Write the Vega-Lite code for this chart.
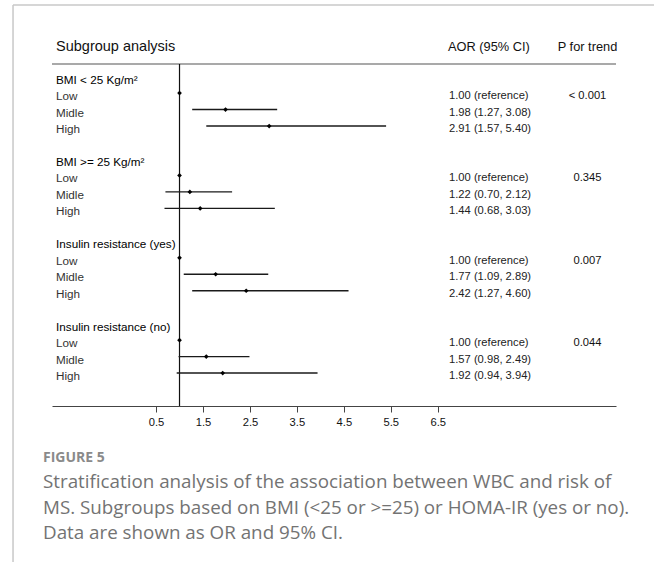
{
  "$schema": "https://vega.github.io/schema/vega-lite/v6.json",
  "width": 564,
  "height": 387,
  "autosize": {"type": "none"},
  "padding": {"left": 52, "top": 19, "right": 38, "bottom": 156},
  "background": "white",
  "config": {"view": {"stroke": null}, "font": "Liberation Sans"},
  "title": {
    "text": "FIGURE 5",
    "subtitle": [
      "Stratification analysis of the association between WBC and risk of",
      "MS. Subgroups based on BMI (<25 or >=25) or HOMA-IR (yes or no).",
      "Data are shown as OR and 95% CI."
    ],
    "orient": "bottom",
    "anchor": "start",
    "frame": "group",
    "dx": -9,
    "offset": -112,
    "font": "Open Sans",
    "fontSize": 14,
    "fontWeight": "bold",
    "color": "#8a8a8a",
    "subtitleFont": "Open Sans",
    "subtitleFontSize": 18.8,
    "subtitleColor": "#737373",
    "subtitleLineHeight": 25.5,
    "subtitlePadding": 8.5
  },
  "datasets": {
    "rows": [
      {"row": 0, "label": "BMI < 25 Kg/m²", "type": "head"},
      {"row": 1, "label": "Low", "type": "sub", "or": 1.0, "est": "1.00 (reference)", "p": "< 0.001"},
      {"row": 2, "label": "Midle", "type": "sub", "or": 1.98, "lo": 1.27, "hi": 3.08, "est": "1.98 (1.27, 3.08)"},
      {"row": 3, "label": "High", "type": "sub", "or": 2.91, "lo": 1.57, "hi": 5.40, "est": "2.91 (1.57, 5.40)"},
      {"row": 5, "label": "BMI >= 25 Kg/m²", "type": "head"},
      {"row": 6, "label": "Low", "type": "sub", "or": 1.0, "est": "1.00 (reference)", "p": "0.345"},
      {"row": 7, "label": "Midle", "type": "sub", "or": 1.22, "lo": 0.70, "hi": 2.12, "est": "1.22 (0.70, 2.12)"},
      {"row": 8, "label": "High", "type": "sub", "or": 1.44, "lo": 0.68, "hi": 3.03, "est": "1.44 (0.68, 3.03)"},
      {"row": 10, "label": "Insulin resistance (yes)", "type": "head"},
      {"row": 11, "label": "Low", "type": "sub", "or": 1.0, "est": "1.00 (reference)", "p": "0.007"},
      {"row": 12, "label": "Midle", "type": "sub", "or": 1.77, "lo": 1.09, "hi": 2.89, "est": "1.77 (1.09, 2.89)"},
      {"row": 13, "label": "High", "type": "sub", "or": 2.42, "lo": 1.27, "hi": 4.60, "est": "2.42 (1.27, 4.60)"},
      {"row": 15, "label": "Insulin resistance (no)", "type": "head"},
      {"row": 16, "label": "Low", "type": "sub", "or": 1.0, "est": "1.00 (reference)", "p": "0.044"},
      {"row": 17, "label": "Midle", "type": "sub", "or": 1.57, "lo": 0.98, "hi": 2.49, "est": "1.57 (0.98, 2.49)"},
      {"row": 18, "label": "High", "type": "sub", "or": 1.92, "lo": 0.94, "hi": 3.94, "est": "1.92 (0.94, 3.94)"}
    ],
    "headers": [
      {"col": "label", "text": "Subgroup analysis"},
      {"col": "est", "text": "AOR (95% CI)"},
      {"col": "p", "text": "P for trend"}
    ],
    "one": [{"id": 1}]
  },
  "data": {"name": "rows"},
  "layer": [
    {
      "data": {"name": "one"},
      "mark": {"type": "rule", "color": "#c8c8c8", "strokeWidth": 1.5},
      "encoding": {
        "x": {"datum": -2.546, "type": "quantitative", "title": null, "scale": {"domain": [-1.716, 10.297], "nice": false, "zero": false}},
        "x2": {"datum": 11.5},
        "y": {"datum": -4.35, "type": "quantitative", "title": null, "axis": null, "scale": {"domain": [-3.5, 20], "nice": false, "zero": false, "reverse": true}}
      }
    },
    {
      "data": {"name": "one"},
      "mark": {"type": "rule", "color": "#c8c8c8", "strokeWidth": 1.5},
      "encoding": {
        "x": {"datum": -2.546, "type": "quantitative", "title": null},
        "y": {"datum": -4.35, "type": "quantitative", "title": null, "axis": null},
        "y2": {"datum": 29.47}
      }
    },
    {
      "data": {"name": "one"},
      "mark": {"type": "rule", "color": "#8c8c8c", "strokeWidth": 1.5},
      "encoding": {
        "x": {"datum": -1.716, "type": "quantitative", "title": null},
        "x2": {"datum": 10.297},
        "y": {"datum": -0.76, "type": "quantitative", "title": null, "axis": null}
      }
    },
    {
      "data": {"name": "one"},
      "mark": {"type": "rule", "color": "#111111", "strokeWidth": 1.2},
      "encoding": {
        "x": {"datum": 1, "type": "quantitative", "title": null},
        "y": {"datum": -0.76, "type": "quantitative", "title": null, "axis": null},
        "y2": {"datum": 20}
      }
    },
    {
      "transform": [{"filter": "isValid(datum.lo)"}],
      "mark": {"type": "rule", "color": "#1a1a1a", "strokeWidth": 1.4},
      "encoding": {
        "x": {
          "field": "lo", "type": "quantitative", "title": null,
          "axis": {
            "values": [0.5, 1.5, 2.5, 3.5, 4.5, 5.5, 6.5],
            "format": ".1f",
            "grid": false,
            "tickSize": 6,
            "labelPadding": 4,
            "labelFontSize": 11.2,
            "labelColor": "#111111",
            "labelFont": "Liberation Sans",
            "domainColor": "#444444",
            "tickColor": "#444444",
            "domainWidth": 1.2,
            "labelFlush": false
          }
        },
        "x2": {"field": "hi"},
        "y": {"field": "row", "type": "quantitative", "title": null, "axis": null}
      }
    },
    {
      "transform": [{"filter": "isValid(datum.or)"}],
      "mark": {"type": "point", "shape": "diamond", "filled": true, "color": "#000000", "size": 22, "opacity": 1},
      "encoding": {
        "x": {"field": "or", "type": "quantitative", "title": null},
        "y": {"field": "row", "type": "quantitative", "title": null, "axis": null}
      }
    },
    {
      "mark": {"type": "text", "align": "left", "baseline": "middle", "dy": 3, "fontSize": 11.7, "font": "Liberation Sans"},
      "encoding": {
        "x": {"datum": -1.63, "type": "quantitative", "title": null},
        "y": {"field": "row", "type": "quantitative", "title": null, "axis": null},
        "text": {"field": "label"},
        "color": {"condition": {"test": "datum.type === 'head'", "value": "#000000"}, "value": "#333333"}
      }
    },
    {
      "transform": [{"filter": "isValid(datum.est)"}],
      "mark": {"type": "text", "align": "left", "baseline": "middle", "dy": 3, "fontSize": 11.2, "font": "Liberation Sans", "color": "#222222"},
      "encoding": {
        "x": {"datum": 6.74, "type": "quantitative", "title": null},
        "y": {"field": "row", "type": "quantitative", "title": null, "axis": null},
        "text": {"field": "est"}
      }
    },
    {
      "transform": [{"filter": "isValid(datum.p)"}],
      "mark": {"type": "text", "align": "center", "baseline": "middle", "dy": 3, "fontSize": 11.2, "font": "Liberation Sans", "color": "#111111"},
      "encoding": {
        "x": {"datum": 9.69, "type": "quantitative", "title": null},
        "y": {"field": "row", "type": "quantitative", "title": null, "axis": null},
        "text": {"field": "p"}
      }
    },
    {
      "data": {"name": "headers"},
      "transform": [{"filter": "datum.col === 'label'"}],
      "mark": {"type": "text", "align": "left", "baseline": "middle", "fontSize": 14.5, "font": "Liberation Sans", "color": "#111111"},
      "encoding": {
        "x": {"datum": -1.63, "type": "quantitative", "title": null},
        "y": {"datum": -1.79, "type": "quantitative", "title": null, "axis": null},
        "text": {"field": "text"}
      }
    },
    {
      "data": {"name": "headers"},
      "transform": [{"filter": "datum.col === 'est'"}],
      "mark": {"type": "text", "align": "left", "baseline": "middle", "fontSize": 12.8, "font": "Liberation Sans", "color": "#111111"},
      "encoding": {
        "x": {"datum": 6.72, "type": "quantitative", "title": null},
        "y": {"datum": -1.79, "type": "quantitative", "title": null, "axis": null},
        "text": {"field": "text"}
      }
    },
    {
      "data": {"name": "headers"},
      "transform": [{"filter": "datum.col === 'p'"}],
      "mark": {"type": "text", "align": "center", "baseline": "middle", "fontSize": 12.8, "font": "Liberation Sans", "color": "#111111"},
      "encoding": {
        "x": {"datum": 9.69, "type": "quantitative", "title": null},
        "y": {"datum": -1.79, "type": "quantitative", "title": null, "axis": null},
        "text": {"field": "text"}
      }
    }
  ]
}
